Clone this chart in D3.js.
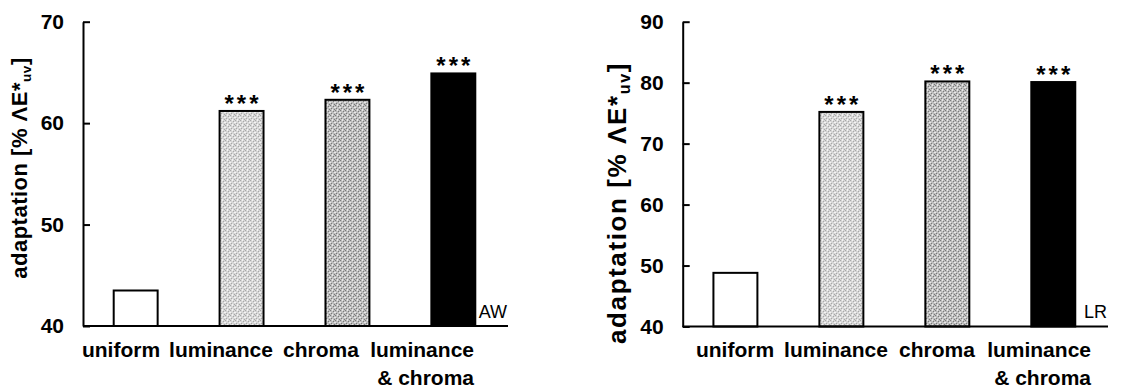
<html>
<head>
<meta charset="utf-8">
<title>adaptation AW / LR</title>
<script src="https://cdn.jsdelivr.net/npm/d3@7"></script>
<style>
    html, body { margin: 0; padding: 0; background: #fff; }
    body { font-family: "Liberation Sans", Arial, sans-serif; }
    .tick text { font-size: 21px; font-weight: 700; }
    .cat { font-size: 21px; font-weight: 700; }
    .stars { font-size: 24px; font-weight: 700; letter-spacing: 3px; }
    .ytitle { font-weight: 700; }
    .tag { font-size: 18px; }
</style>
</head>
<body>
<svg width="1123" height="390" id="mainsvg"></svg>
<script>
    // data
    const categories = ['uniform', 'luminance', 'chroma', 'luminance & chroma'];
    const awValues = [43.5, 61.2, 62.3, 64.9];
    const lrValues = [48.8, 75.2, 80.2, 80.1];
    const signif = ['', '***', '***', '***'];
    const awTicks = [40, 50, 60, 70];
    const lrTicks = [40, 50, 60, 70, 80, 90];

    const svg = d3.select('#mainsvg');

    // stippled fills
    const defs = svg.append('defs');
    function stipple(id, base, dark, light) {
        const p = defs.append('pattern').attr('id', id).attr('patternUnits', 'userSpaceOnUse')
            .attr('width', 5).attr('height', 5);
        p.append('rect').attr('width', 5).attr('height', 5).attr('fill', base);
        [[0, 0], [3, 1], [1, 3], [4, 4]].forEach(d => p.append('rect').attr('x', d[0]).attr('y', d[1])
            .attr('width', 1).attr('height', 1).attr('fill', dark));
        [[2, 0], [0, 2], [4, 2], [2, 4]].forEach(d => p.append('rect').attr('x', d[0]).attr('y', d[1])
            .attr('width', 1).attr('height', 1).attr('fill', light));
    }
    stipple('lum', '#d6d6d6', '#a8a8a8', '#f4f4f4');
    stipple('chr', '#bdbdbd', '#7a7a7a', '#e8e8e8');
    const fills = ['#ffffff', 'url(#lum)', 'url(#chr)', '#000000'];

    function panel(cfg) {
        const g = svg.append('g');
        const yScale = d3.scaleLinear().domain(cfg.domain).range([cfg.bottom, cfg.top]);
        const xScale = d3.scaleBand().domain(categories).range([cfg.left, cfg.barsEnd])
            .paddingInner(0.585).paddingOuter(0.29);
        const labelScale = d3.scalePoint().domain(categories).range(cfg.labelRange);

        // bars
        g.selectAll('rect.bar').data(cfg.values).join('rect').attr('class', 'bar')
            .attr('x', (d, i) => xScale(categories[i]))
            .attr('width', xScale.bandwidth())
            .attr('y', d => yScale(d))
            .attr('height', d => yScale(cfg.domain[0]) - yScale(d))
            .attr('fill', (d, i) => fills[i])
            .attr('stroke', '#000').attr('stroke-width', 2);

        // significance stars
        g.selectAll('text.stars').data(cfg.values).join('text').attr('class', 'stars')
            .attr('x', (d, i) => xScale(categories[i]) + xScale.bandwidth() / 2 + 1.5)
            .attr('y', d => yScale(d) + 1)
            .attr('text-anchor', 'middle')
            .text((d, i) => signif[i]);

        // y axis with inward ticks
        const yAxis = d3.axisLeft(yScale).tickValues(cfg.ticks).tickSize(-7).tickSizeOuter(0).tickPadding(19);
        const ya = g.append('g').attr('transform', `translate(${cfg.left},0)`).call(yAxis);
        ya.select('.domain').attr('stroke-width', 2);
        ya.selectAll('.tick line').attr('stroke-width', 2);
        ya.selectAll('.tick text').attr('fill', '#000');

        // x axis baseline
        g.append('line').attr('x1', cfg.left).attr('x2', cfg.axisEnd)
            .attr('y1', yScale(cfg.domain[0])).attr('y2', yScale(cfg.domain[0]))
            .attr('stroke', '#000').attr('stroke-width', 2);

        // category labels
        categories.forEach(c => {
            const parts = c.split(' & ');
            if (parts.length === 1) {
                g.append('text').attr('class', 'cat').attr('x', labelScale(c)).attr('y', 357)
                    .attr('text-anchor', 'middle').text(c);
            } else {
                const t = g.append('text').attr('class', 'cat').attr('text-anchor', 'end');
                t.append('tspan').attr('x', labelScale(c) + 53).attr('y', 357).text(parts[0]);
                t.append('tspan').attr('x', labelScale(c) + 53).attr('y', 385).text('& ' + parts[1]);
            }
        });

        // panel tag
        g.append('text').attr('class', 'tag').attr('x', cfg.axisEnd - 1).attr('y', 318)
            .attr('text-anchor', 'end').text(cfg.tag);

        // y title
        const yt = g.append('text').attr('class', 'ytitle')
            .attr('transform', `translate(${cfg.titleX},${cfg.titleY}) rotate(-90)`)
            .attr('text-anchor', 'middle')
            .style('font-size', cfg.titleSize + 'px')
            .style('letter-spacing', cfg.titleSpacing + 'px');
        yt.append('tspan').text('adaptation [% ΛE*');
        yt.append('tspan').attr('font-size', cfg.titleSize * 0.62).attr('dy', 4).text('uv');
        yt.append('tspan').attr('dy', -4).text(']');
    }

    panel({ values: awValues, ticks: awTicks, domain: [40, 70], top: 21.7, bottom: 326,
        left: 83, barsEnd: 506, axisEnd: 508, labelRange: [121, 421],
        tag: 'AW', titleX: 27, titleY: 168, titleSize: 22, titleSpacing: 0.5 });
    panel({ values: lrValues, ticks: lrTicks, domain: [40, 90], top: 21.7, bottom: 326.5,
        left: 682.7, barsEnd: 1106, axisEnd: 1108, labelRange: [735, 1038],
        tag: 'LR', titleX: 626, titleY: 203, titleSize: 26, titleSpacing: 1.6 });
</script>
</body>
</html>
